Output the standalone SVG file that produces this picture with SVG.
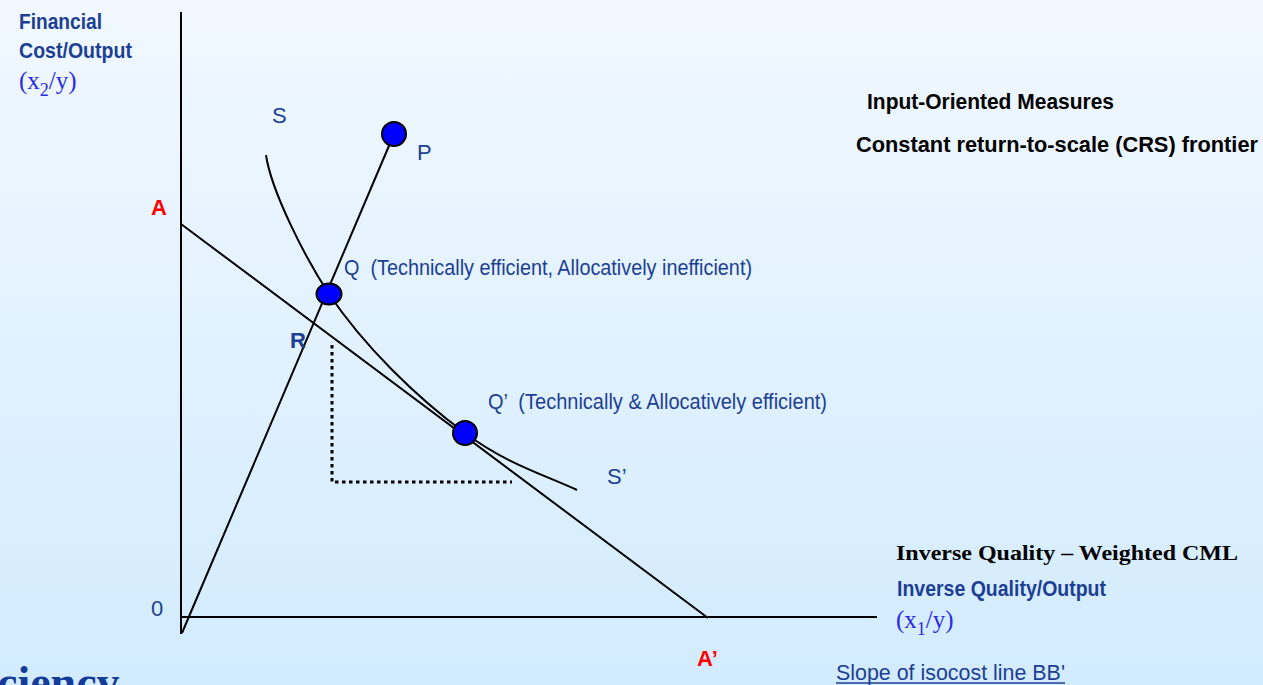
<svg xmlns="http://www.w3.org/2000/svg" width="1263" height="685" viewBox="0 0 1263 685">
  <defs>
    <linearGradient id="bg" x1="0" y1="0" x2="0" y2="1">
      <stop offset="0" stop-color="#f1f8ff"/>
      <stop offset="1" stop-color="#d2ebfe"/>
    </linearGradient>
  </defs>
  <style>
    .ln { stroke: #000; stroke-width: 2; fill: none; }
    .dot { stroke: #000; stroke-width: 3; fill: none; stroke-dasharray: 3.5 3.5; }
    .pt { fill: #0000ff; stroke: #000; stroke-width: 2; }
    .lbl { font-family: "Liberation Sans Narrow", "Liberation Sans", Arial, sans-serif; fill: #1c3f94; font-size: 22px; }
    .b { font-weight: bold; }
    .red { fill: #ff0000; font-weight: bold; }
    .blk { fill: #000; }
    .ser { font-family: "Liberation Serif", "Times New Roman", serif; }
    .sblue { font-family: "Liberation Serif", "Times New Roman", serif; fill: #2a2ae6; font-size: 25px; }
  </style>
  <rect x="0" y="0" width="1263" height="685" fill="url(#bg)"/>

  <g id="axes">
    <line class="ln" x1="181" y1="12" x2="181" y2="634"/>
    <line class="ln" x1="181" y1="617" x2="877" y2="617"/>
  </g>

  <g id="connectors">
    <line id="ray-0P" class="ln" x1="182" y1="633" x2="394" y2="134"/>
    <line id="isocost-AA" class="ln" x1="181" y1="224" x2="708" y2="618"/>
    <path id="isoquant-SS" class="ln" d="M266,155 C271,190 304,256 329,294 C364,346 416,397 465,433 C505,463 542,474 577,490"/>
    <polyline id="dotted" class="dot" points="332,345 332,482 512,482"/>
  </g>

  <g id="node-P">
    <circle class="pt" cx="394" cy="134" r="12"/>
    <text class="lbl" x="417" y="160">P</text>
  </g>
  <g id="node-Q">
    <ellipse class="pt" cx="329" cy="294" rx="12.5" ry="10.5"/>
    <text class="lbl" x="344" y="275" textLength="408" lengthAdjust="spacingAndGlyphs" xml:space="preserve">Q  (Technically efficient, Allocatively inefficient)</text>
  </g>
  <g id="node-Q2">
    <circle class="pt" cx="465" cy="433" r="12"/>
    <text class="lbl" x="488" y="409" textLength="339" lengthAdjust="spacingAndGlyphs" xml:space="preserve">Q’  (Technically &amp; Allocatively efficient)</text>
  </g>

  <g id="labels">
    <text class="lbl" x="272" y="123">S</text>
    <text class="lbl" x="607" y="484">S’</text>
    <text class="lbl b" x="290" y="348" font-size="20">R</text>
    <text class="lbl red" x="151" y="215" font-size="20">A</text>
    <text class="lbl red" x="697" y="666" font-size="20">A’</text>
    <text class="lbl" x="151" y="616">0</text>
  </g>

  <g id="y-axis-title">
    <text class="lbl b" x="19" y="29" font-size="20" textLength="83" lengthAdjust="spacingAndGlyphs">Financial</text>
    <text class="lbl b" x="19" y="58" font-size="20" textLength="113" lengthAdjust="spacingAndGlyphs">Cost/Output</text>
    <text class="sblue" x="19" y="89">(x<tspan dy="7" font-size="18">2</tspan><tspan dy="-7">/y)</tspan></text>
  </g>

  <g id="x-axis-title">
    <text class="lbl blk ser b" x="896" y="560" font-size="22" textLength="342" lengthAdjust="spacingAndGlyphs">Inverse Quality – Weighted CML</text>
    <text class="lbl b" x="897" y="596" font-size="20" textLength="209" lengthAdjust="spacingAndGlyphs">Inverse Quality/Output</text>
    <text class="sblue" x="896" y="628">(x<tspan dy="7" font-size="18">1</tspan><tspan dy="-7">/y)</tspan></text>
  </g>

  <g id="headings">
    <text class="lbl blk b" x="867" y="109" font-size="20" textLength="247" lengthAdjust="spacingAndGlyphs">Input-Oriented Measures</text>
    <text class="lbl blk b" x="856" y="152" font-size="20" textLength="402" lengthAdjust="spacingAndGlyphs">Constant return-to-scale (CRS) frontier</text>
  </g>

  <g id="footer">
    <text class="lbl" x="836" y="680" font-size="20" textLength="229" lengthAdjust="spacingAndGlyphs">Slope of isocost line BB'</text>
    <line x1="836" y1="683" x2="1065" y2="683" stroke="#1c3f94" stroke-width="1.5"/>
    <text class="ser b" x="-3" y="698" font-size="46" fill="#163c9a">ciency</text>
  </g>
</svg>
